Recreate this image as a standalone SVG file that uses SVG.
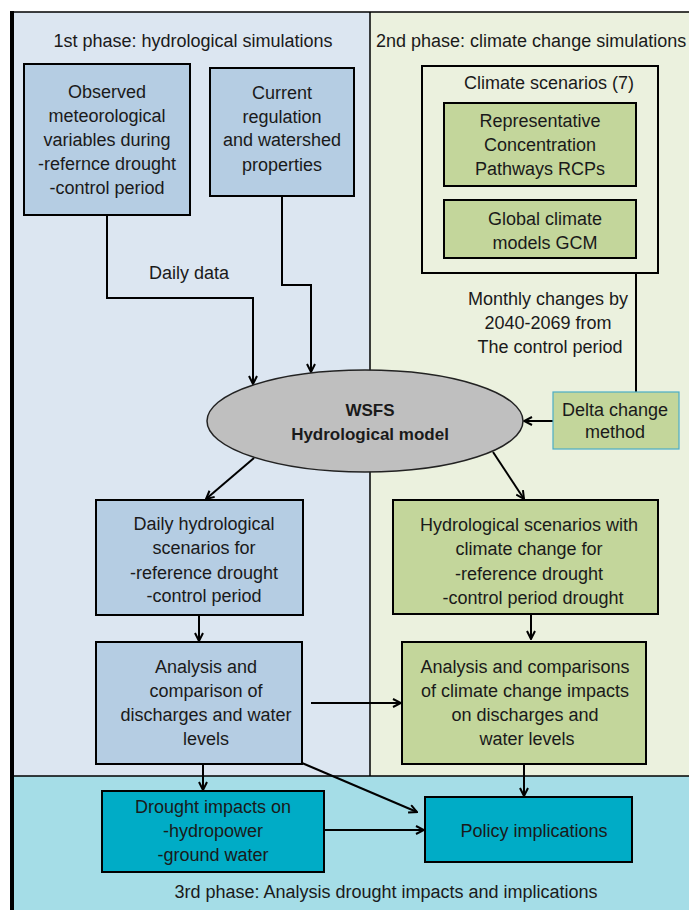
<svg xmlns="http://www.w3.org/2000/svg" width="689" height="910" viewBox="0 0 689 910">
<defs>
<style>
text{font-family:"Liberation Sans",Arial,sans-serif;font-size:18px;fill:#1a1a1a;text-anchor:middle}
.bx{stroke:#000;stroke-width:2}
.blue{fill:#b5cde3}
.green{fill:#c3d69b}
.teal{fill:#00acc6}
.con{fill:none;stroke:#000;stroke-width:2}
.arr{marker-end:url(#ah)}
.bold{font-weight:bold;font-size:17px}
</style>
<marker id="ah" viewBox="0 0 10 10" refX="9" refY="5" markerWidth="10" markerHeight="10" markerUnits="userSpaceOnUse" orient="auto">
<path d="M1,1 L9,5 L1,9" fill="none" stroke="#000" stroke-width="2"/>
</marker>
</defs>
<rect width="689" height="910" fill="#ffffff"/>
<g id="phases">
<rect x="12" y="12" width="358" height="764" fill="#dce6f1"/>
<rect x="370" y="12" width="319" height="764" fill="#ebf1de"/>
<rect x="12" y="776" width="677" height="134" fill="#a5dde7"/>
<line x1="10" y1="12" x2="689" y2="12" stroke="#000" stroke-width="1.5"/>
<line x1="370" y1="12" x2="370" y2="776" stroke="#000" stroke-width="1.5"/>
<line x1="12" y1="776" x2="689" y2="776" stroke="#000" stroke-width="1.5"/>
<line x1="12" y1="11" x2="12" y2="910" stroke="#000" stroke-width="4"/>
<text x="193" y="47">1st phase: hydrological simulations</text>
<text x="376" y="47" style="text-anchor:start">2nd phase: climate change simulations</text>
<text x="386" y="898">3rd phase: Analysis drought impacts and implications</text>
</g>
<g id="connectors">
<path class="con arr" d="M107,215 V298 H253 V384"/>
<path class="con arr" d="M282,196 V285 H311 V372"/>
<path class="con" d="M636,273 V392"/>
<path class="con arr" d="M553,421 H524"/>
<path class="con arr" d="M254,458 L206,499"/>
<path class="con arr" d="M493,452 L524,499"/>
<path class="con arr" d="M199,615 V641"/>
<path class="con arr" d="M531,614 V639"/>
<path class="con arr" d="M311,703 H401"/>
<path class="con arr" d="M203,764 V790"/>
<path class="con arr" d="M524,764 V796"/>
<path class="con arr" d="M302,763 L417,812"/>
<path class="con arr" d="M324,830 H424"/>
<text x="189" y="279">Daily data</text>
<text x="548" y="305">Monthly changes by</text>
<text x="548" y="329">2040-2069 from</text>
<text x="550" y="353">The control period</text>
</g>
<g id="observed">
<rect class="bx blue" x="24" y="64" width="166" height="151"/>
<text x="107" y="98">Observed</text>
<text x="107" y="122">meteorological</text>
<text x="107" y="146">variables during</text>
<text x="107" y="170">-refernce drought</text>
<text x="107" y="194">-control period</text>
</g>
<g id="current">
<rect class="bx blue" x="210" y="68" width="144" height="128"/>
<text x="282" y="99">Current</text>
<text x="282" y="123">regulation</text>
<text x="282" y="146">and watershed</text>
<text x="282" y="171">properties</text>
</g>
<g id="climate-scenarios">
<rect x="422" y="66" width="236" height="207" fill="none" stroke="#000" stroke-width="2"/>
<text x="549" y="89">Climate scenarios (7)</text>
</g>
<g id="rcp">
<rect class="bx green" x="444" y="103" width="192" height="83"/>
<text x="540" y="127">Representative</text>
<text x="540" y="151">Concentration</text>
<text x="540" y="175">Pathways RCPs</text>
</g>
<g id="gcm">
<rect class="bx green" x="444" y="200" width="192" height="58"/>
<text x="545" y="225">Global climate</text>
<text x="545" y="249">models GCM</text>
</g>
<g id="wsfs">
<ellipse cx="365" cy="421" rx="158" ry="51" fill="#bfbfbf" stroke="#222" stroke-width="1.5"/>
<text class="bold" x="370" y="416">WSFS</text>
<text class="bold" x="370" y="440">Hydrological model</text>
</g>
<g id="delta">
<rect class="green" x="553" y="392" width="126" height="57" stroke="#4bacc6" stroke-width="1.2"/>
<text x="615" y="416">Delta change</text>
<text x="615" y="438">method</text>
</g>
<g id="daily-hydro">
<rect class="bx blue" x="96" y="500" width="207" height="115"/>
<text x="204" y="530">Daily hydrological</text>
<text x="204" y="554">scenarios for</text>
<text x="204" y="579">-reference drought</text>
<text x="204" y="602">-control period</text>
</g>
<g id="hydro-scen">
<rect class="bx green" x="393" y="500" width="265" height="114"/>
<text x="529" y="531">Hydrological scenarios with</text>
<text x="529" y="555">climate change for</text>
<text x="529" y="580">-reference drought</text>
<text x="533" y="604">-control period drought</text>
</g>
<g id="analysis">
<rect class="bx blue" x="96" y="642" width="206" height="122"/>
<text x="206" y="673">Analysis and</text>
<text x="206" y="697">comparison of</text>
<text x="206" y="721">discharges and water</text>
<text x="206" y="745">levels</text>
</g>
<g id="analysis-cc">
<rect class="bx green" x="402" y="642" width="244" height="122"/>
<text x="525" y="673">Analysis and comparisons</text>
<text x="525" y="697">of climate change impacts</text>
<text x="525" y="721">on discharges and</text>
<text x="527" y="745">water levels</text>
</g>
<g id="drought">
<rect class="bx teal" x="102" y="791" width="222" height="81"/>
<text x="213" y="813">Drought impacts on</text>
<text x="213" y="837">-hydropower</text>
<text x="213" y="861">-ground water</text>
</g>
<g id="policy">
<rect class="bx teal" x="425" y="797" width="207" height="65"/>
<text x="534" y="837">Policy implications</text>
</g>
</svg>
